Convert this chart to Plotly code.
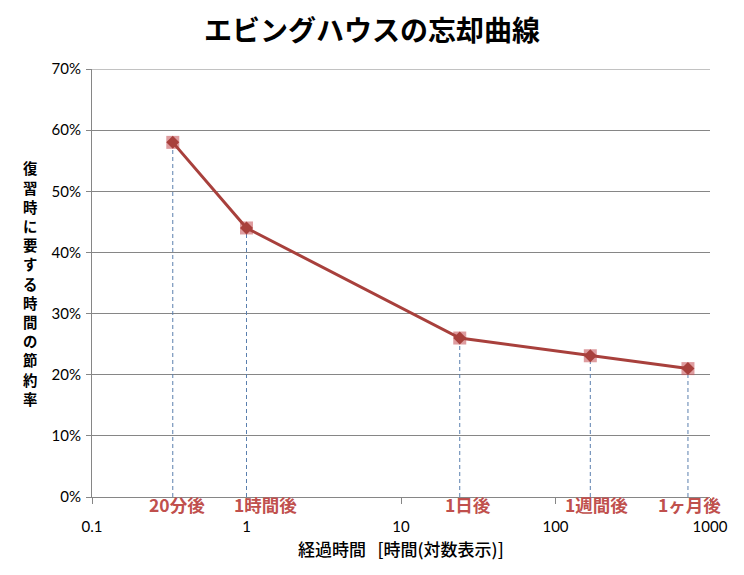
import math
import plotly.graph_objects as go

# Data
hours = [1/3, 1, 24, 168, 720]
savings = [0.58, 0.44, 0.26, 0.231, 0.21]
point_labels = ["20分後", "1時間後", "1日後", "1週間後", "1ヶ月後"]
label_xshift = [4, 19, 8, 6, 2]
x_tickvals = [0.1, 1, 10, 100, 1000]
x_ticktext = ["0.1", "1", "10", "100", "1000"]
y_tickvals = [0, 0.1, 0.2, 0.3, 0.4, 0.5, 0.6, 0.7]
y_ticktext = ["0%", "10%", "20%", "30%", "40%", "50%", "60%", "70%"]

title_text = "エビングハウスの忘却曲線"
y_title = "復習時に要する時間の節約率"
x_title = "経過時間   [時間(対数表示)]"

LINE = "#A8403C"
LABEL = "#C0504D"
DROP = "#5A7FAE"
GRID = "#868686"
JP = "Noto Sans CJK JP"

fig = go.Figure()

# drop lines
for xv, yv in zip(hours, savings):
    fig.add_trace(go.Scatter(x=[xv, xv], y=[0, yv], mode="lines",
                             line=dict(color=DROP, width=1, dash="4px,3px"),
                             hoverinfo="skip", showlegend=False))

# halo squares
fig.add_trace(go.Scatter(x=hours, y=savings, mode="markers",
                         marker=dict(symbol="square", size=13,
                                     color="rgba(200,90,95,0.6)",
                                     line=dict(width=0)),
                         showlegend=False, hoverinfo="skip"))
# main line with diamonds
fig.add_trace(go.Scatter(x=hours, y=savings, mode="lines+markers",
                         line=dict(color=LINE, width=3),
                         marker=dict(symbol="diamond", size=10, color=LINE),
                         showlegend=False))

annotations = []
for xv, lab, dx in zip(hours, point_labels, label_xshift):
    annotations.append(dict(x=math.log10(xv), y=0, xref="x", yref="y", text=f"<b>{lab}</b>",
                            showarrow=False, xanchor="center", yanchor="middle",
                            yshift=-7, xshift=dx,
                            font=dict(family=JP, size=17.5, color=LABEL)))

# vertical y-axis title, one character per annotation
chars = list(y_title)
step = 19.2
n = len(chars)
for i, ch in enumerate(chars):
    annotations.append(dict(x=-0.1, y=0.5, xref="paper", yref="paper",
                            text=f"<b>{ch}</b>", showarrow=False,
                            xanchor="center", yanchor="middle",
                            yshift=((n - 1) / 2 - i) * step,
                            font=dict(family=JP, size=14.4, color="#000000")))

annotations.append(dict(x=0.5, y=0, xref="paper", yref="paper", text=x_title,
                        showarrow=False, xanchor="center", yanchor="middle",
                        yshift=-51,
                        font=dict(family=JP, size=17, color="#000000", weight=500)))

fig.update_layout(
    width=744, height=575,
    margin=dict(l=92, r=34, t=69, b=78),
    paper_bgcolor="white", plot_bgcolor="white",
    title=dict(text=f"<b>{title_text}</b>", x=0.5, xanchor="center",
               y=1 - 31/575, yanchor="middle",
               font=dict(family=JP, size=28, color="#000000")),
    xaxis=dict(type="log", range=[-1, 3], tickvals=x_tickvals, ticktext=x_ticktext,
               showgrid=False, zeroline=False, showline=True, linecolor=GRID, linewidth=1,
               ticks="outside", ticklen=6, tickcolor=GRID, ticklabelstandoff=10,
               tickfont=dict(family="Lato", size=15, color="#000000")),
    yaxis=dict(range=[0, 0.7], tickvals=y_tickvals, ticktext=y_ticktext,
               showgrid=True, gridcolor=GRID, gridwidth=1, zeroline=False,
               showline=True, linecolor=GRID, linewidth=1,
               ticks="outside", ticklen=5, tickcolor=GRID, ticklabelstandoff=2,
               tickfont=dict(family="Lato", size=15, color="#000000")),
    annotations=annotations,
)

fig.add_hline(y=0.7, line=dict(color=GRID, width=1))

fig.write_html("out.html")
